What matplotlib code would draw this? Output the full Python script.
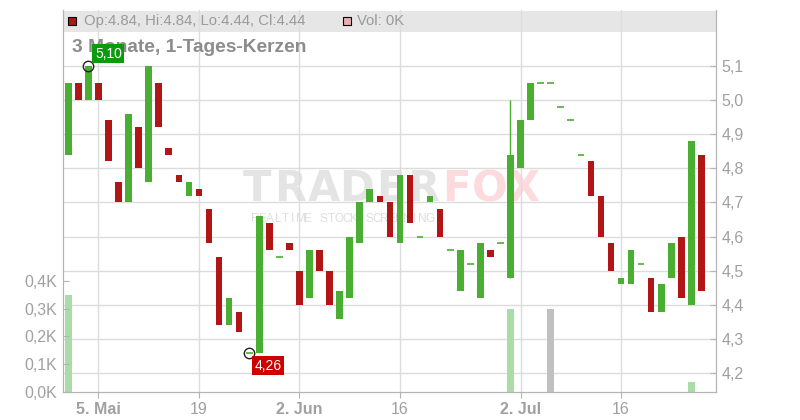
import numpy as np
import matplotlib
matplotlib.use('Agg')
import matplotlib.pyplot as plt
import matplotlib.transforms as mtransforms
from matplotlib.patches import Rectangle

plt.rcParams['font.family'] = ['Liberation Sans', 'DejaVu Sans']

# daily candles, one per trading day (index 0 .. 63)
opens = [4.84, 5.05, 5.00, 5.05, 4.94, 4.76, 4.70, 4.92, 4.76, 5.05,
         4.86, 4.78, 4.72, 4.74, 4.68, 4.54, 4.34, 4.38, 4.26, 4.26,
         4.64, 4.54, 4.58, 4.50, 4.42, 4.56, 4.50, 4.36, 4.42, 4.58,
         4.70, 4.72, 4.70, 4.58, 4.78, 4.60, 4.70, 4.68, 4.56, 4.44,
         4.52, 4.42, 4.56, 4.58, 4.48, 4.80, 4.94, 5.05, 5.05, 4.98,
         4.94, 4.84, 4.82, 4.72, 4.58, 4.46, 4.46, 4.52, 4.48, 4.38,
         4.48, 4.60, 4.40, 4.84]
closes = [5.05, 5.00, 5.10, 5.00, 4.82, 4.70, 4.96, 4.80, 5.10, 4.92,
          4.84, 4.76, 4.76, 4.72, 4.58, 4.34, 4.42, 4.32, 4.26, 4.66,
          4.56, 4.54, 4.56, 4.40, 4.56, 4.50, 4.40, 4.44, 4.60, 4.70,
          4.74, 4.70, 4.60, 4.78, 4.64, 4.60, 4.72, 4.60, 4.56, 4.56,
          4.52, 4.58, 4.54, 4.58, 4.84, 4.94, 5.05, 5.05, 5.05, 4.98,
          4.94, 4.84, 4.72, 4.60, 4.50, 4.48, 4.56, 4.52, 4.38, 4.46,
          4.58, 4.42, 4.88, 4.44]
highs = [5.05, 5.05, 5.10, 5.05, 4.94, 4.76, 4.96, 4.92, 5.10, 5.05,
         4.86, 4.78, 4.76, 4.74, 4.68, 4.54, 4.42, 4.38, 4.26, 4.66,
         4.64, 4.54, 4.58, 4.50, 4.56, 4.56, 4.50, 4.44, 4.60, 4.70,
         4.74, 4.72, 4.70, 4.78, 4.78, 4.60, 4.72, 4.68, 4.56, 4.56,
         4.52, 4.58, 4.56, 4.58, 5.00, 4.94, 5.05, 5.05, 5.05, 4.98,
         4.94, 4.84, 4.82, 4.72, 4.58, 4.48, 4.56, 4.52, 4.48, 4.46,
         4.58, 4.60, 4.88, 4.84]
lows = [4.84, 5.00, 5.00, 5.00, 4.82, 4.70, 4.70, 4.80, 4.76, 4.92,
        4.84, 4.76, 4.72, 4.72, 4.58, 4.34, 4.34, 4.32, 4.26, 4.26,
        4.56, 4.54, 4.56, 4.40, 4.42, 4.50, 4.40, 4.36, 4.42, 4.58,
        4.70, 4.70, 4.60, 4.58, 4.64, 4.60, 4.70, 4.60, 4.56, 4.44,
        4.52, 4.42, 4.54, 4.58, 4.48, 4.80, 4.94, 5.05, 5.05, 4.98,
        4.94, 4.84, 4.72, 4.60, 4.50, 4.46, 4.46, 4.52, 4.38, 4.38,
        4.48, 4.42, 4.40, 4.44]
# volume in thousands
volumes = [0.35, 0, 0, 0, 0, 0, 0, 0, 0, 0,
           0, 0, 0, 0, 0, 0, 0, 0, 0, 0,
           0, 0, 0, 0, 0, 0, 0, 0, 0, 0,
           0, 0, 0, 0, 0, 0, 0, 0, 0, 0,
           0, 0, 0, 0, 0.30, 0, 0, 0, 0.30, 0,
           0, 0, 0, 0, 0, 0, 0, 0, 0, 0,
           0, 0, 0.037, 0]

tick_idx = [3, 13, 23, 33, 45, 55]
tick_labels = ['5. Mai', '19', '2. Jun', '16', '2. Jul', '16']
tick_bold = [True, False, True, False, True, False]
price_ticks = [4.2, 4.3, 4.4, 4.5, 4.6, 4.7, 4.8, 4.9, 5.0, 5.1]
vol_ticks = [0.0, 0.1, 0.2, 0.3, 0.4]

GREEN = '#4aae33'
RED = '#b11515'
GRAY = '#a0a0a0'
AXC = '#b4b4b4'

W, H = 800, 420
L, R, T, B = 63, 716, 10, 392
fig = plt.figure(figsize=(8, 4.2), dpi=100)
ax = fig.add_axes([L / W, 1 - B / H, (R - L) / W, (B - T) / H])
axv = ax.twinx()
px = mtransforms.IdentityTransform()

# legend band + title + watermark
ax.add_patch(Rectangle((L, H - 32), R - L, 21, transform=px, fc='#e6e6e6',
                       ec='none', zorder=0.2, clip_on=False))
ax.add_patch(Rectangle((68, H - 25), 8, 8, transform=px, fc=RED, ec='black',
                       lw=0.8, zorder=3, clip_on=False))
ax.text(84, H - 21, 'Op:%.2f, Hi:%.2f, Lo:%.2f, Cl:%.2f'
        % (opens[-1], highs[-1], lows[-1], closes[-1]),
        transform=px, va='center', ha='left', fontsize=10.7, color='#9a9a9a')
ax.add_patch(Rectangle((343, H - 25), 8, 8, transform=px, fc='#eeaab2',
                       ec='black', lw=0.8, zorder=3, clip_on=False))
ax.text(357, H - 21, 'Vol: %dK' % round(volumes[-1]), transform=px,
        va='center', ha='left', fontsize=10.7, color='#9a9a9a')
ax.text(72, H - 47, '3 Monate, 1-Tages-Kerzen', transform=px, va='center',
        ha='left', fontsize=13.8, fontweight='bold', color='#8c8c8c', zorder=3)

for k, ch in enumerate('TRADERFOX'):
    col = '#e4e4e4' if k < 6 else '#fcdadd'
    ax.text(257 + 33.3 * k, H - 189, ch, transform=px, ha='center',
            va='center', fontsize=30, fontweight='bold', family='DejaVu Sans',
            color=col, zorder=0.3)
for k, ch in enumerate('REALTIME STOCK SCREENING'):
    ax.text(255 + 7.6 * k, H - 219, ch, transform=px, ha='center',
            va='center', fontsize=8.5, color='#dedede', zorder=0.3)

# candles
for i in range(len(opens)):
    o, c = opens[i], closes[i]
    if o == c:
        ax.hlines(o, i - 0.33, i + 0.33, color=GREEN, lw=1.2, zorder=2)
        continue
    col = GREEN if c > o else RED
    if highs[i] > max(o, c) or lows[i] < min(o, c):
        ax.vlines(i, lows[i], highs[i], color=col, lw=1, zorder=2)
    ax.bar(i, abs(c - o), bottom=min(o, c), width=0.66, color=col, zorder=2)

# volume
vcols = []
for o, c in zip(opens, closes):
    vcols.append('#a9dca7' if c > o else ('#c0c0c0' if c == o else '#eeaab2'))
axv.bar(range(len(volumes)), volumes, width=0.66, color=vcols)

# high / low markers
i_hi = int(np.argmax(highs))
i_lo = int(np.argmin(lows))
ax.plot(i_hi, highs[i_hi], 'o', ms=7.5, mfc='none', mec='#222222', mew=1, zorder=4)
ax.plot(i_lo, lows[i_lo], 'o', ms=7.5, mfc='none', mec='#222222', mew=1, zorder=4)
ax.annotate(('%.2f' % highs[i_hi]).replace('.', ','), xy=(i_hi, highs[i_hi]),
            xytext=(20, 12), textcoords='offset pixels', ha='center', va='center',
            fontsize=10, color='white', zorder=5,
            bbox=dict(boxstyle='square,pad=0.18', fc='#0e9a0e', ec='none'))
ax.annotate(('%.2f' % lows[i_lo]).replace('.', ','), xy=(i_lo, lows[i_lo]),
            xytext=(19, -13), textcoords='offset pixels', ha='center', va='center',
            fontsize=10, color='white', zorder=5,
            bbox=dict(boxstyle='square,pad=0.18', fc='#cc0000', ec='none'))

# axes
ax.set_xlim(-0.527, 64.45)
ax.set_ylim(4.1453, 5.263)
axv.set_ylim(0, 1.374)
ax.yaxis.tick_right()
axv.yaxis.tick_left()

ax.set_yticks(price_ticks)
ax.set_yticklabels([('%.1f' % p).replace('.', ',') for p in price_ticks])
axv.set_yticks(vol_ticks)
axv.set_yticklabels([('%.1fK' % v).replace('.', ',') for v in vol_ticks])
ax.set_xticks(tick_idx)
ax.set_xticklabels(tick_labels)
for lab, b in zip(ax.get_xticklabels(), tick_bold):
    lab.set_fontweight('bold' if b else 'normal')

ax.set_axisbelow(True)
ax.grid(True, color='#dcdcdc', lw=1)

ax.tick_params(axis='y', direction='in', length=4, color=AXC, labelcolor=GRAY,
               labelsize=11.5, pad=4)
axv.tick_params(axis='y', direction='in', length=4, color=AXC, labelcolor=GRAY,
                labelsize=11.5, pad=4)
ax.tick_params(axis='x', direction='out', length=4, color=AXC, labelcolor=GRAY,
               labelsize=11.5, pad=3)
for a in (ax, axv):
    for s in ('left', 'right', 'bottom'):
        a.spines[s].set_color(AXC)
    a.spines['top'].set_visible(False)

fig.savefig('out.png', dpi=100)
